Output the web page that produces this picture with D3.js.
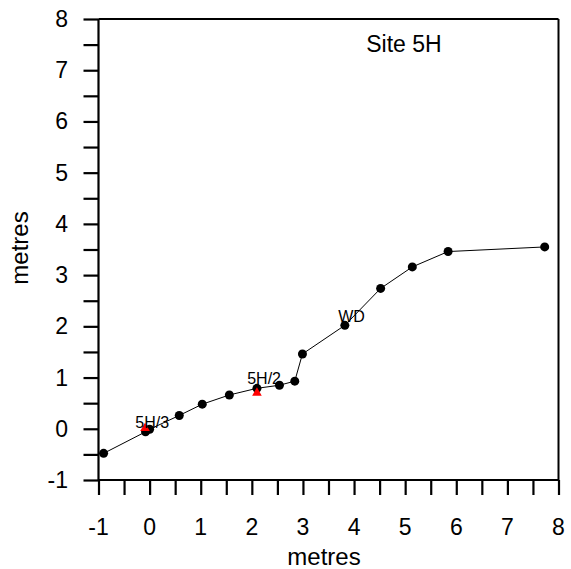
<!DOCTYPE html>
<html><head><meta charset="utf-8">
<script src="https://cdn.jsdelivr.net/npm/d3@7"></script>
<style>body{margin:0;background:#fff}</style>
</head><body>
<svg id="c" width="571" height="569"></svg>
<script>
const xs = [-0.90, -0.08, 0.00, 0.58, 1.03, 1.56, 2.10, 2.54, 2.84, 2.99, 3.82, 4.52, 5.14, 5.84, 7.73];
const ys = [-0.48, -0.06, -0.01, 0.26, 0.48, 0.66, 0.79, 0.85, 0.93, 1.46, 2.02, 2.74, 3.16, 3.46, 3.55];
const triX = [-0.09, 2.10];
const triY = [0.01, 0.70];
const labels = ["5H/3", "5H/2", "WD"];
const labelX = [0.05, 2.24, 3.95];
const labelY = [0.02, 0.87, 2.09];
const xTicks = [-1,0,1,2,3,4,5,6,7,8];
const yTicks = [-1,0,1,2,3,4,5,6,7,8];
const title = "Site 5H";

const svg = d3.select("#c");
const L=98.5,R=558.5,T=19,B=480;
const x = d3.scaleLinear().domain([-1,8]).range([L,R]);
const y = d3.scaleLinear().domain([-1,8]).range([B,T]);
const font = "Liberation Sans, Arial, sans-serif";

svg.append("line").attr("x1",L).attr("x2",R).attr("y1",T).attr("y2",T).attr("stroke","#000").attr("stroke-width",2);
svg.append("line").attr("x1",R).attr("x2",R).attr("y1",T).attr("y2",B).attr("stroke","#000").attr("stroke-width",2);

const minor = d3.range(-1,8.01,0.5);
const xa = svg.append("g").attr("transform",`translate(0,${B})`)
  .call(d3.axisBottom(x).tickValues(minor).tickSize(15).tickFormat(""));
const ya = svg.append("g").attr("transform",`translate(${L},0)`)
  .call(d3.axisLeft(y).tickValues(minor).tickSize(15).tickFormat(""));
[xa,ya].forEach(g=>{g.selectAll("path,line").attr("stroke","#000").attr("stroke-width",2.2);
  g.select(".domain").attr("d", g===xa?`M${L},0H${R}`:`M0,${T}V${B}`);});

svg.append("g").selectAll("text").data(xTicks).join("text")
  .attr("x",d=>x(d)).attr("y",535).attr("text-anchor","middle")
  .attr("font-family",font).attr("font-size",23).text(d=>d);
svg.append("g").selectAll("text").data(yTicks).join("text")
  .attr("x",68).attr("y",d=>y(d)+8).attr("text-anchor","end")
  .attr("font-family",font).attr("font-size",23).text(d=>d);

svg.append("text").attr("x",324).attr("y",565).attr("text-anchor","middle")
  .attr("font-family",font).attr("font-size",24).text("metres");
svg.append("text").attr("transform","translate(28,248) rotate(-90)").attr("text-anchor","middle")
  .attr("font-family",font).attr("font-size",24).text("metres");
svg.append("text").attr("x",404).attr("y",52).attr("text-anchor","middle")
  .attr("font-family",font).attr("font-size",23).text(title);

const pts = xs.map((v,i)=>[v,ys[i]]);
svg.append("path").datum(pts).attr("fill","none").attr("stroke","#000").attr("stroke-width",1)
  .attr("d",d3.line().x(d=>x(d[0])).y(d=>y(d[1])));
svg.append("g").selectAll("circle").data(pts).join("circle")
  .attr("cx",d=>x(d[0])).attr("cy",d=>y(d[1])).attr("r",4.5).attr("fill","#000");
const tri = d3.symbol().type(d3.symbolTriangle).size(40);
svg.append("g").selectAll("path").data(triX.map((v,i)=>[v,triY[i]])).join("path")
  .attr("d",tri).attr("transform",d=>`translate(${x(d[0])},${y(d[1])})`).attr("fill","#ff0000");
svg.append("g").selectAll("text").data(labels).join("text")
  .attr("x",(d,i)=>x(labelX[i])).attr("y",(d,i)=>y(labelY[i])).attr("text-anchor","middle")
  .attr("font-family",font).attr("font-size",16).text(d=>d);
</script>
</body></html>
